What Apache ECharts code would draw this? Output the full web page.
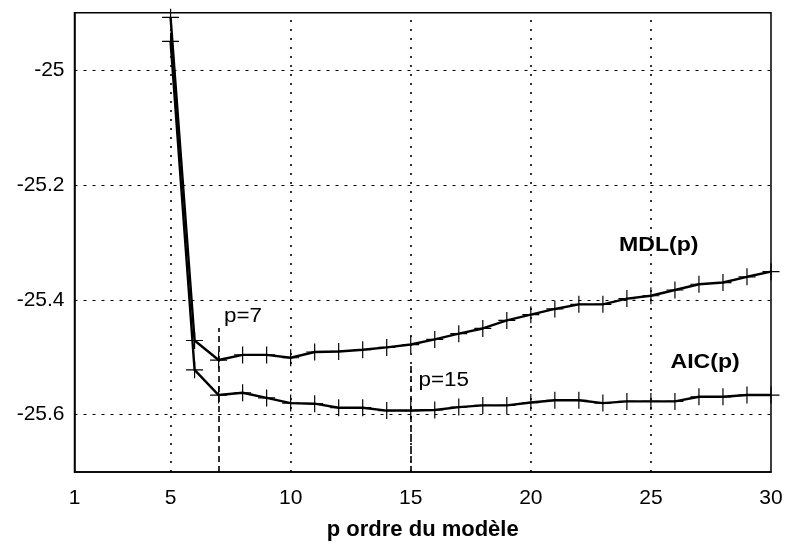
<!DOCTYPE html>
<html>
<head>
<meta charset="utf-8">
<script src="https://cdn.jsdelivr.net/npm/echarts@6/dist/echarts.min.js"></script>
<style>html,body{margin:0;padding:0;background:#fff}#c{width:786px;height:546px}</style>
</head>
<body>
<div id="c"></div>
<script>
const pValues = [5,6,7,8,9,10,11,12,13,14,15,16,17,18,19,20,21,22,23,24,25,26,27,28,29,30];
const mdlValues = [-24.908,-25.471,-25.505,-25.496,-25.496,-25.501,-25.491,-25.490,-25.487,-25.483,-25.478,-25.469,-25.459,-25.450,-25.436,-25.426,-25.416,-25.408,-25.408,-25.398,-25.393,-25.383,-25.373,-25.370,-25.360,-25.351];
const aicValues = [-24.950,-25.522,-25.566,-25.562,-25.571,-25.580,-25.581,-25.588,-25.588,-25.593,-25.593,-25.592,-25.587,-25.584,-25.584,-25.579,-25.575,-25.575,-25.580,-25.577,-25.577,-25.577,-25.569,-25.569,-25.566,-25.566];
const xTickLabels = [1,5,10,15,20,25,30];
const xGrid = [5,10,15,20,25];
const yTickLabels = [-25,-25.2,-25.4,-25.6];
const optimumP = [7,15];
const optimumTop = [-25.449,-25.515];

const FONT = '"Liberation Sans", Arial, Helvetica, sans-serif';
const plus = 'path://M-1,-0.07L1,-0.07L1,0.07L-1,0.07Z M-0.07,-1L0.07,-1L0.07,1L-0.07,1Z';

const chart = echarts.init(document.getElementById('c'), null, {renderer:'canvas'});

function toPairs(xs, ys){ return xs.map((x,i)=>[x, ys[i]]); }

const option = {
  animation: false,
  backgroundColor: '#fff',
  grid: {left: 74.5, right: 15, top: 12.7, bottom: 72, show: true, borderColor: '#000', borderWidth: 1.5, backgroundColor: 'transparent'},
  xAxis: {
    type: 'value', min: 1, max: 30, interval: 1,
    name: 'p ordre du modèle', nameLocation: 'middle', nameGap: 47,
    nameTextStyle: {fontFamily: FONT, fontSize: 22, fontWeight: 'bold', color: '#000'},
    axisLine: {show: true, lineStyle: {color: '#000', width: 1.5}},
    axisTick: {show: false},
    splitLine: {show: false},
    axisLabel: {
      margin: 16, fontFamily: FONT, fontSize: 21, color: '#000',
      formatter: v => xTickLabels.indexOf(Math.round(v)) >= 0 ? String(Math.round(v)) : ''
    }
  },
  yAxis: {
    type: 'value', min: -25.7, max: -24.9, interval: 0.1,
    axisLine: {show: true, lineStyle: {color: '#000', width: 1.5}},
    axisTick: {show: false},
    splitLine: {show: false},
    axisLabel: {
      margin: 10, fontFamily: FONT, fontSize: 21, color: '#000',
      formatter: v => { const r = Math.round(v*10)/10; return yTickLabels.indexOf(r) >= 0 ? String(r) : ''; }
    }
  },
  series: [
    {
      type: 'line', data: [], silent: true,
      markLine: {
        silent: true, symbol: 'none', label: {show: false},
        data: xGrid.map(x => ({xAxis: x, lineStyle: {color: '#000', width: 1.6, type: [2,7]}}))
          .concat(yTickLabels.map(y => ({yAxis: y, lineStyle: {color: '#000', width: 1.1, type: [3,6]}})))
          .concat(optimumP.map((p,i) => [
            {coord: [p, -25.7], lineStyle: {color: '#000', width: 1.6, type: [6,4]}},
            {coord: [p, optimumTop[i]]}
          ]))
      }
    },
    {
      name: 'MDL(p)', type: 'line', data: toPairs(pValues, mdlValues),
      symbol: plus, symbolSize: 17, showAllSymbol: true,
      lineStyle: {color: '#000', width: 2.4},
      itemStyle: {color: '#000'}
    },
    {
      name: 'AIC(p)', type: 'line', data: toPairs(pValues, aicValues),
      symbol: plus, symbolSize: 17, showAllSymbol: true,
      lineStyle: {color: '#000', width: 2.4},
      itemStyle: {color: '#000'}
    }
  ],
  graphic: [
    {type: 'text', x: 619, y: 245.5, scaleX: 1.1, style: {text: 'MDL(p)', font: 'bold 21px ' + FONT, fill: '#000', verticalAlign: 'middle'}},
    {type: 'text', x: 670.5, y: 362.5, scaleX: 1.1, style: {text: 'AIC(p)', font: 'bold 21px ' + FONT, fill: '#000', verticalAlign: 'middle'}},
    {type: 'text', x: 224, y: 316.5, scaleX: 1.12, style: {text: 'p=7', font: '20px ' + FONT, fill: '#000', verticalAlign: 'middle'}},
    {type: 'text', x: 418.5, y: 380.5, scaleX: 1.12, style: {text: 'p=15', font: '20px ' + FONT, fill: '#000', verticalAlign: 'middle'}}
  ]
};
chart.setOption(option);
</script>
</body>
</html>
